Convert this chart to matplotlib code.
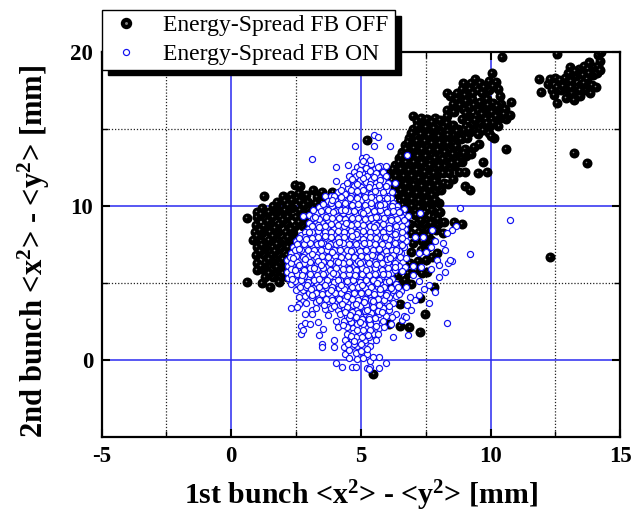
import matplotlib
matplotlib.use("Agg")
import matplotlib.pyplot as plt
from matplotlib.lines import Line2D
from matplotlib.legend_handler import HandlerTuple
from matplotlib.transforms import ScaledTranslation

plt.rcParams['font.family'] = ['Liberation Serif', 'DejaVu Serif']
plt.rcParams['mathtext.fontset'] = 'custom'
plt.rcParams['mathtext.bf'] = 'Liberation Serif:bold'
plt.rcParams['mathtext.rm'] = 'Liberation Serif'
plt.rcParams['axes.unicode_minus'] = False

X_TICKS = [-5, 0, 5, 10, 15]
Y_TICKS = [0, 10, 20]
X_MINOR = [-2.5, 2.5, 7.5, 12.5]
Y_MINOR = [5, 15]
X_LABEL = r'1st bunch <x$\mathbf{^2}$> - <y$\mathbf{^2}$> [mm]'
Y_LABEL = r'2nd bunch <x$\mathbf{^2}$> - <y$\mathbf{^2}$> [mm]'
LABEL_OFF = 'Energy-Spread FB OFF'
LABEL_ON = 'Energy-Spread FB ON'

off_far = [(11.87,18.23),(11.93,17.4),(12.2,17.9),(12.35,17.5),(12.3,18.2),(12.55,16.65),(12.5,18.3),(12.55,17.7),
 (12.45,17.2),(12.7,17.5),(12.75,18.0),(12.85,18.3),(12.9,17.0),(12.95,17.6),(13.0,18.6),(13.05,19.0),(13.1,18.1),
 (13.15,17.3),(13.2,16.85),(13.3,17.7),(13.3,18.4),(13.4,18.9),(13.45,17.1),(13.5,17.9),(13.55,18.5),(13.6,19.1),
 (13.65,17.5),(13.7,18.2),(13.75,18.9),(13.8,19.3),(13.85,17.3),(13.9,17.85),(13.95,18.5),(14.0,19.0),(14.05,17.7),
 (14.1,18.6),(14.15,19.1),(14.2,19.4),(14.15,19.8),(14.2,18.8),(12.57,19.83),(14.26,20.0),(13.2,13.45),(13.7,12.8),
 (12.3,6.67),(10.43,19.67),(10.6,13.7),(12.8,17.8),(13.25,18.75),(13.6,18.0),(13.45,17.5),(13.1,17.7),(13.8,18.6),(12.65,18.15)]

off_arm = [(10.05,18.6),(10.2,18.05),(9.95,18.1),(9.4,18.2),(9.25,17.95),(8.95,18.0),(8.9,17.6),(9.0,17.2),(9.5,17.5),
 (9.65,17.3),(9.95,17.5),(10.3,17.6),(10.35,17.1),(8.3,17.3),(8.45,17.15),(8.7,16.9),(8.55,16.6),(9.05,16.8),(9.3,16.9),
 (9.6,16.75),(9.85,16.95),(10.1,16.7),(10.4,16.6),(10.8,16.75),(8.3,16.2),(8.3,15.85),(8.95,16.3),(9.2,16.4),(9.5,16.2),
 (9.8,16.35),(10.05,16.1),(10.3,16.2),(10.55,16.3),(10.75,15.9),(10.6,15.6),(10.35,15.7),(10.05,15.6),(9.8,15.9),
 (9.45,15.85),(9.15,15.8),(8.9,15.6),(9.3,15.3),(9.05,15.2),(9.6,15.4),(9.95,15.1),(10.3,15.2),(10.1,15.35),(9.7,14.9),
 (9.95,14.75),(10.15,14.4),(10.0,14.55),(9.35,14.9),(9.1,14.4),(9.2,14.8),(8.95,14.9),
 (7.0,15.85),(7.15,15.5),(7.55,15.6),(7.85,15.7),(8.05,15.55),(7.35,15.2),(7.65,15.3),(7.95,15.15),(8.2,15.1),(8.55,15.25),
 (8.75,15.0),(7.0,15.0),(7.25,14.85),(7.5,14.9),(7.8,14.8),(8.1,14.7),(8.35,14.85),(8.6,14.6),(8.85,14.35),
 (6.85,14.4),(7.1,14.5),(7.4,14.45),(7.7,14.35),(7.95,14.25),(8.3,14.35),(8.55,14.1),(6.7,13.95),(7.0,14.05),(7.25,13.95),
 (7.55,13.9),(7.85,13.85),(8.15,13.8),(8.4,13.6),(8.75,13.55),(9.0,13.7),(9.35,13.8),(9.55,14.0),(9.25,13.35),(9.05,13.2),
 (6.6,13.5),(6.9,13.55),(7.2,13.5),(7.5,13.45),(7.75,13.35),(8.05,13.3),(8.35,13.1),(8.65,13.05),(8.9,12.85),(9.7,12.85),
 (6.45,13.1),(6.75,13.05),(7.05,13.1),(7.35,13.0),(7.65,12.9),(7.95,12.85),(8.25,12.6),(8.6,12.55),(8.8,12.2),(9.0,12.2),
 (6.3,12.65),(6.6,12.6),(6.9,12.6),(7.2,12.55),(7.5,12.45),(7.8,12.4),(8.15,12.1),(8.4,12.15),(9.5,12.15),(9.85,12.2),
 (6.1,12.2),(6.4,12.15),(6.7,12.15),(7.0,12.1),(7.3,12.0),(7.6,11.95),(7.9,11.8),(6.2,11.7),(6.5,11.7),(6.8,11.65),
 (7.1,11.6),(7.4,11.5),(7.7,11.45),(8.2,11.5),(8.55,11.75),(8.35,11.4),(9.0,11.3),(9.2,11.05),(8.1,11.0),(7.85,10.9),
 (6.3,11.2),(6.6,11.25),(6.9,11.15),(7.2,11.1),(7.5,11.0),(6.4,10.75),(6.7,10.75),(7.0,10.65),(7.3,10.6),(7.6,10.5),
 (6.5,10.3),(6.8,10.3),(7.1,10.2),(7.4,10.1),(7.7,10.1),(8.0,10.2)]

off_arm_fill = [(9.6,18.0),(10.1,17.8),(9.2,17.55),(9.75,17.7),(8.7,17.3),(9.3,17.3),(8.8,16.55),(9.35,16.55),(9.9,16.55),(10.25,16.45),
 (8.6,16.1),(9.05,16.0),(9.65,15.95),(10.2,15.85),(10.5,15.95),(9.4,15.55),(9.8,15.6),(9.15,15.0),(9.5,14.65),(9.85,15.35),
 (7.3,15.7),(7.75,15.45),(8.3,15.4),(7.15,15.2),(7.5,15.1),(7.8,15.05),(8.35,14.6),(8.7,14.85),(6.95,14.7),(7.3,14.65),
 (7.6,14.6),(8.0,14.5),(6.8,14.15),(7.15,14.2),(7.45,14.2),(7.75,14.1),(8.05,14.05),(8.35,14.05),(8.65,13.85),(6.75,13.7),
 (7.05,13.75),(7.35,13.7),(7.65,13.65),(7.95,13.6),(8.25,13.5),(8.55,13.35),(8.95,13.4),(6.55,13.25),(6.9,13.3),(7.2,13.25),
 (7.5,13.2),(7.85,13.1),(8.15,13.05),(8.5,12.8),(8.75,12.85),(6.45,12.85),(6.75,12.85),(7.05,12.85),(7.35,12.75),(7.65,12.65),
 (8.0,12.55),(6.25,12.4),(6.55,12.4),(6.85,12.35),(7.15,12.3),(7.45,12.2),(7.8,12.15),(6.35,11.95),(6.65,11.9),(6.95,11.9),
 (7.25,11.8),(7.55,11.7),(7.85,11.6),(6.45,11.45),(6.75,11.4),(7.05,11.35),(7.35,11.25),(7.65,11.2),(7.95,11.25),(6.55,11.0),
 (6.85,10.9),(7.15,10.85),(7.45,10.8),(7.75,10.7),(6.65,10.5),(6.95,10.45),(7.25,10.35),(7.55,10.3),(7.85,10.35),(6.6,10.05),
 (6.95,9.95),(7.25,9.9)]

off_lobe = [(2.47,11.35),(2.65,11.3),(1.25,10.6),(0.6,9.2),(2.0,10.6),(2.3,10.7),(2.6,10.8),(2.9,10.7),(3.16,11.0),(3.5,10.9),
 (3.9,10.9),(3.3,10.55),(3.6,10.5),(1.75,10.25),(2.05,10.3),(2.35,10.35),(2.65,10.3),(2.95,10.25),(3.25,10.2),
 (1.0,9.6),(1.2,9.85),(1.45,9.6),(1.75,9.8),(2.05,9.75),(2.35,9.85),(2.65,9.7),(2.95,9.8),(1.0,9.25),(1.3,9.2),(1.6,9.3),
 (1.9,9.3),(2.2,9.3),(2.5,9.25),(2.8,9.2),(0.95,8.75),(1.25,8.7),(1.55,8.8),(1.85,8.8),(2.15,8.8),(2.45,8.7),(2.75,8.7),
 (0.9,8.3),(1.2,8.2),(1.5,8.3),(1.8,8.3),(2.1,8.3),(2.4,8.2),(0.85,7.8),(1.15,7.7),(1.45,7.8),(1.75,7.75),(2.05,7.8),(2.35,7.7),
 (1.0,7.3),(1.3,7.25),(1.6,7.3),(1.9,7.25),(2.2,7.3),(0.95,6.8),(1.25,6.8),(1.55,6.8),(1.85,6.8),(2.15,6.8),
 (1.0,6.3),(1.3,6.3),(1.6,6.35),(1.9,6.3),(1.0,5.85),(1.25,5.8),(1.55,5.85),(1.85,5.8),(2.1,5.85),(1.3,5.4),(1.6,5.4),
 (1.9,5.4),(2.15,5.4),(0.6,5.06),(1.2,4.95),(1.5,4.74),(1.85,5.05),(2.25,6.3),(1.15,9.45),(1.6,10.0),(2.2,10.05),(2.8,10.05),
 (1.4,9.0),(2.0,9.05),(2.6,8.95),(1.1,8.45),(1.7,8.55),(2.3,8.5),(1.0,8.05),(1.6,8.05),(2.2,8.0),(1.2,7.45),(1.75,7.5),
 (1.1,7.05),(1.7,7.05),(2.0,6.55),(1.45,6.55),(1.15,6.1),(1.75,6.05),(1.45,5.6),(2.0,5.6)]

off_low = [(5.48,-0.93),(7.26,1.82),(6.87,2.14),(6.5,2.2),(6.1,2.35),(7.47,2.97),(7.28,3.98),(6.5,3.6),(7.82,4.74),(7.54,5.7),
 (7.35,5.6),(7.93,6.9),(7.75,6.7),(8.89,8.8),(8.6,8.95),(8.2,8.95),(7.96,8.8),(8.16,8.2),(5.23,14.27),(5.6,12.14),(6.1,4.9),
 (6.6,5.0),(6.95,4.9),(6.4,5.5),(6.8,5.6),(7.1,5.8),(6.9,6.3),(7.2,6.4),(7.5,6.5),(6.95,7.0),(7.3,7.1),(7.6,7.3),(7.0,7.6),
 (7.35,7.7),(7.7,7.8),(6.95,8.2),(7.25,8.3),(7.55,8.5),(6.9,8.8),(7.2,8.9),(7.5,9.1),(7.8,9.3),(7.1,9.4),(7.45,9.6),
 (7.75,9.7),(8.05,9.6),(6.85,9.75),(6.7,5.2),(7.7,8.9),(7.45,8.8),(7.9,8.4),(7.6,8.1),(7.3,9.1),(7.95,9.15)]

on_outer = [(3.13,13.03),(4.78,13.9),(5.51,14.6),(5.65,14.45),(5.5,13.85),(6.13,13.87),(6.77,13.3),(4.05,12.5),(8.83,9.85),
 (10.75,9.07),(9.2,6.85),(8.31,2.4),(8.5,6.43),(8.35,6.3),(8.23,5.7),(8.03,5.4),(8.67,8.7),(8.5,8.45),(8.3,8.2),(7.64,4.85),(7.64,3.7),
 (7.85,4.4),(6.77,3.55),(6.82,1.6),(6.25,1.45),(5.97,-0.24),(5.68,0.17),(5.68,-0.56),(5.25,-0.56),(5.35,-0.45),(4.65,-0.45),
 (4.8,-0.48),(4.27,-0.48),(4.05,-0.2),(5.3,-0.6),(3.5,1.02),(3.5,0.8),(3.95,1.27),(3.95,0.85),(3.37,1.6),(2.69,1.67),(2.69,2.2),(2.75,1.95),
 (2.85,2.36),(3.05,2.35),(3.33,2.47),(3.55,2.0),(4.13,2.14),(2.31,3.34),(2.63,3.6),(2.55,3.45),(2.85,2.97),(3.1,3.2),
 (3.1,2.97),(7.28,9.55),(7.73,8.42),(8.17,7.57),(8.25,7.1),(8.44,6.47),(7.85,7.7),(7.95,6.5),(8.0,6.15),(7.7,5.9),(7.25,5.1),
 (7.45,4.6),(7.1,3.9),(7.25,4.2),(6.9,4.1),(6.6,2.6),(6.35,2.95),(6.65,2.85),(7.5,7.0),(7.25,6.9),(7.7,7.3),(7.4,8.0),(7.1,8.0),
 (6.95,3.2),(6.75,2.75)]

on_core = [(4.5,12.65),(4.85,12.5),(5.05,13.1),(5.2,13.15),(5.0,12.7),(5.4,12.7),(5.75,12.6),(5.95,12.55),(5.2,12.45),(5.55,12.4),
 (4.75,12.2),(5.85,12.2),(4.55,11.95),(4.8,11.9),(5.05,12.1),(5.25,11.95),(5.45,12.05),(5.7,11.85),(5.95,11.9),(4.7,11.6),
 (4.95,11.65),(5.2,11.55),(5.4,11.7),(5.6,11.5),(5.85,11.6),(6.05,11.45),(4.05,11.6),(6.3,11.5),(4.3,11.3),(4.5,11.15),
 (4.75,11.25),(5.0,11.2),(5.25,11.1),(5.5,11.2),(5.75,11.15),(6.0,11.05),(6.2,10.9),(4.1,10.9),(4.4,10.75),(4.65,10.85),
 (4.9,10.7),(5.15,10.8),(5.4,10.75),(5.65,10.8),(5.9,10.7),(6.15,10.5),(3.6,10.6),(3.85,10.6),(3.75,10.3),(4.0,10.4),
 (4.25,10.3),(4.5,10.4),(4.75,10.25),(5.0,10.35),(5.25,10.3),(5.5,10.35),(5.75,10.25),(6.0,10.3),(6.25,10.2),(6.4,10.0),
 (3.4,9.9),(3.65,9.8),(3.9,9.95),(4.15,9.85),(4.4,9.95),(4.65,9.85),(4.9,9.9),(5.15,9.8),(5.4,9.95),(5.65,9.85),(5.9,9.9),
 (6.15,9.8),(6.4,9.75),(6.65,9.8),(3.0,9.4),(3.3,9.5),(3.55,9.35),(3.8,9.5),(4.05,9.4),(4.3,9.5),(4.55,9.4),(4.8,9.45),
 (5.05,9.35),(5.3,9.5),(5.55,9.4),(5.8,9.5),(6.05,9.35),(6.3,9.45),(6.55,9.35),(6.8,9.3),(2.75,9.35),(3.0,8.85),(3.25,9.0),
 (3.5,8.9),(3.75,9.05),(4.0,8.95),(4.25,9.0),(4.5,8.9),(4.75,9.05),(5.0,8.95),(5.25,9.0),(5.5,8.9),(5.75,9.05),(6.0,8.95),
 (6.25,9.0),(6.5,8.9),(6.75,8.85),
 (2.95,8.5),(3.2,8.55),(3.45,8.45),(3.7,8.6),(3.95,8.5),(4.2,8.55),(4.45,8.45),(4.7,8.6),(4.95,8.5),(5.2,8.55),(5.45,8.45),
 (5.7,8.6),(5.95,8.5),(6.2,8.55),(6.45,8.45),(6.7,8.5),
 (2.7,8.1),(2.95,8.15),(3.2,8.05),(3.45,8.2),(3.7,8.1),(3.95,8.15),(4.2,8.05),(4.45,8.2),(4.7,8.1),(4.95,8.15),(5.2,8.05),
 (5.45,8.2),(5.7,8.1),(5.95,8.15),(6.2,8.05),(6.45,8.15),(6.7,8.05),
 (2.5,7.7),(2.75,7.75),(3.0,7.65),(3.25,7.8),(3.5,7.7),(3.75,7.75),(4.0,7.65),(4.25,7.8),(4.5,7.7),(4.75,7.75),(5.0,7.65),
 (5.25,7.8),(5.5,7.7),(5.75,7.75),(6.0,7.65),(6.25,7.75),(6.5,7.65),(6.75,7.7),
 (2.4,7.3),(2.65,7.35),(2.9,7.25),(3.15,7.4),(3.4,7.3),(3.65,7.35),(3.9,7.25),(4.15,7.4),(4.4,7.3),(4.65,7.35),(4.9,7.25),
 (5.15,7.4),(5.4,7.3),(5.65,7.35),(5.9,7.25),(6.15,7.35),(6.4,7.25),(6.65,7.3),
 (2.3,6.9),(2.55,6.95),(2.8,6.85),(3.05,7.0),(3.3,6.9),(3.55,6.95),(3.8,6.85),(4.05,7.0),(4.3,6.9),(4.55,6.95),(4.8,6.85),
 (5.05,7.0),(5.3,6.9),(5.55,6.95),(5.8,6.85),(6.05,6.95),(6.3,6.85),(6.55,6.9),(6.75,6.6),
 (2.15,6.5),(2.4,6.55),(2.65,6.45),(2.9,6.6),(3.15,6.5),(3.4,6.55),(3.65,6.45),(3.9,6.6),(4.15,6.5),(4.4,6.55),(4.65,6.45),
 (4.9,6.6),(5.15,6.5),(5.4,6.55),(5.65,6.45),(5.9,6.55),(6.15,6.45),(6.4,6.5),
 (2.2,6.1),(2.45,6.15),(2.7,6.05),(2.95,6.2),(3.2,6.1),(3.45,6.15),(3.7,6.05),(3.95,6.2),(4.2,6.1),(4.45,6.15),(4.7,6.05),
 (4.95,6.2),(5.2,6.1),(5.45,6.15),(5.7,6.05),(5.95,6.15),(6.2,6.05),(6.45,6.1),(6.7,6.0),(7.0,6.1),(7.3,6.05),
 (2.15,5.7),(2.4,5.75),(2.65,5.65),(2.9,5.8),(3.15,5.7),(3.4,5.75),(3.65,5.65),(3.9,5.8),(4.15,5.7),(4.4,5.75),(4.65,5.65),
 (4.9,5.8),(5.15,5.7),(5.4,5.75),(5.65,5.65),(5.9,5.75),(6.15,5.65),(6.6,5.75),(7.0,5.5),
 (2.2,5.3),(2.45,5.35),(2.7,5.25),(2.95,5.4),(3.2,5.3),(3.45,5.35),(3.7,5.25),(3.95,5.4),(4.2,5.3),(4.45,5.35),(4.7,5.25),
 (4.95,5.4),(5.2,5.3),(5.45,5.35),(5.7,5.25),(5.95,5.35),(6.2,5.25),
 (2.3,4.9),(2.55,4.95),(2.8,4.85),(3.05,5.0),(3.3,4.9),(3.55,4.95),(3.8,4.85),(4.05,5.0),(4.3,4.9),(4.55,4.95),(4.8,4.85),
 (5.05,5.0),(5.3,4.9),(5.55,4.95),(5.8,4.85),(6.35,4.9),(6.75,4.7),
 (2.5,4.5),(2.75,4.55),(3.0,4.45),(3.25,4.6),(3.5,4.5),(3.75,4.55),(4.0,4.45),(4.25,4.6),(4.5,4.5),(4.75,4.55),(5.0,4.45),
 (5.25,4.6),(5.5,4.5),(5.75,4.55),(6.0,4.45),(6.25,4.5),(6.55,4.45),
 (2.6,4.1),(2.85,4.15),(3.1,4.05),(3.35,4.2),(3.6,4.1),(3.85,4.15),(4.1,4.05),(4.35,4.2),(4.6,4.1),(4.85,4.15),(5.1,4.05),
 (5.35,4.2),(5.6,4.1),(5.85,4.15),(6.1,4.05),(6.35,4.15),
 (2.9,3.7),(3.25,3.75),(3.5,3.65),(3.75,3.8),(4.0,3.7),(4.25,3.75),(4.5,3.65),(4.75,3.8),(5.0,3.7),(5.25,3.75),(5.5,3.65),
 (5.75,3.75),(6.0,3.7),(6.25,3.65),
 (3.25,3.35),(3.6,3.3),(3.85,3.35),(4.1,3.25),(4.35,3.35),(4.6,3.3),(4.85,3.25),(5.1,3.35),(5.35,3.3),(5.6,3.25),(5.85,3.35),(6.1,3.25),
 (3.75,2.9),(4.2,2.95),(4.45,2.85),(4.7,2.95),(4.95,2.85),(5.2,2.95),(5.45,2.85),(5.7,2.95),(5.95,2.85),(6.2,2.8),
 (4.05,2.5),(4.35,2.5),(4.6,2.45),(4.85,2.55),(5.1,2.45),(5.35,2.55),(5.6,2.45),(5.85,2.5),(6.15,2.3),
 (4.45,2.1),(4.7,2.05),(4.95,2.15),(5.2,2.05),(5.45,2.15),(5.7,2.05),(5.9,2.15),
 (4.45,1.7),(4.7,1.75),(4.95,1.65),(5.2,1.75),(5.45,1.65),(5.65,1.7),
 (4.4,1.25),(4.65,1.3),(4.9,1.2),(5.15,1.3),(5.4,1.2),(5.6,1.3),
 (4.35,0.85),(4.6,0.85),(4.85,0.9),(5.1,0.8),(5.35,0.9),
 (4.4,0.4),(4.55,0.6),(4.8,0.45),(5.0,0.55),(5.25,0.4),
 (4.55,0.1),(4.85,0.05),(5.1,0.1),(5.35,-0.1),(5.45,0.15)]

on_fill = [(5.1,12.9),(5.35,12.95),(5.65,12.5),(4.95,12.35),(5.35,12.25),(5.6,12.15),(4.65,11.75),(5.1,11.8),(5.5,11.85),(5.75,11.65),
 (4.45,11.45),(4.85,11.4),(5.35,11.4),(5.7,11.35),(5.95,11.3),(4.25,11.05),(4.6,11.0),(4.85,10.95),(5.1,11.0),(5.55,10.95),(5.85,10.9),
 (3.95,10.65),(4.25,10.55),(4.6,10.6),(4.85,10.5),(5.15,10.55),(5.4,10.55),(5.7,10.5),(6.0,10.5),(3.55,10.1),(3.85,10.15),(4.1,10.1),
 (4.4,10.15),(4.65,10.05),(4.9,10.1),(5.15,10.05),(5.4,10.15),(5.65,10.05),(5.9,10.1),(6.2,10.0),(3.15,9.7),(3.45,9.65),(3.75,9.7),
 (4.0,9.65),(4.25,9.7),(4.5,9.65),(4.75,9.65),(5.0,9.6),(5.25,9.7),(5.5,9.65),(5.75,9.7),(6.0,9.6),(6.25,9.65),(6.5,9.6),(3.15,9.2),
 (3.4,9.15),(3.65,9.25),(3.9,9.2),(4.15,9.2),(4.4,9.15),(4.65,9.2),(4.9,9.2),(5.15,9.15),(5.4,9.2),(5.65,9.25),(5.9,9.2),(6.15,9.2),
 (6.4,9.15),(6.65,9.1),(3.1,8.7),(3.35,8.75),(3.6,8.7),(3.85,8.8),(4.1,8.75),(4.35,8.7),(4.6,8.75),(4.85,8.8),(5.1,8.75),(5.35,8.7),
 (5.6,8.75),(5.85,8.8),(6.1,8.75),(6.35,8.7),(6.6,8.7),(2.85,8.3),(3.1,8.3),(3.35,8.35),(3.6,8.3),(3.85,8.3),(4.1,8.35),(4.35,8.3),
 (4.6,8.35),(4.85,8.3),(5.1,8.35),(5.35,8.3),(5.6,8.35),(5.85,8.3),(6.1,8.35),(6.35,8.3),(6.6,8.3),(2.6,7.9),(2.85,7.95),(3.1,7.9),
 (3.35,7.95),(3.6,7.9),(3.85,7.95),(4.1,7.9),(4.35,7.95),(4.6,7.9),(4.85,7.95),(5.1,7.85),(5.35,7.95),(5.6,7.9),(5.85,7.95),(6.1,7.85),
 (6.35,7.95),(6.6,7.9),(2.55,7.5),(2.8,7.5),(3.05,7.55),(3.3,7.5),(3.55,7.55),(3.8,7.5),(4.05,7.5),(4.3,7.55),(4.55,7.5),(4.8,7.5),
 (5.05,7.45),(5.3,7.55),(5.55,7.5),(5.8,7.5),(6.05,7.45),(6.3,7.55),(6.55,7.5),(2.45,7.1),(2.7,7.15),(2.95,7.1),(3.2,7.15),(3.45,7.1),
 (3.7,7.15),(3.95,7.1),(4.2,7.15),(4.45,7.1),(4.7,7.15),(4.95,7.05),(5.2,7.15),(5.45,7.1),(5.7,7.15),(5.95,7.05),(6.2,7.1),(6.45,7.05),
 (2.25,6.7),(2.5,6.75),(2.75,6.7),(3.0,6.75),(3.25,6.7),(3.5,6.75),(3.75,6.65),(4.0,6.75),(4.25,6.7),(4.5,6.75),(4.75,6.65),(5.0,6.75),
 (5.25,6.7),(5.5,6.75),(5.75,6.65),(6.0,6.75),(6.25,6.65),(6.5,6.7),(2.3,6.3),(2.55,6.35),(2.8,6.25),(3.05,6.35),(3.3,6.3),(3.55,6.35),
 (3.8,6.25),(4.05,6.4),(4.3,6.3),(4.55,6.35),(4.8,6.25),(5.05,6.35),(5.3,6.3),(5.55,6.35),(5.8,6.25),(6.05,6.35),(6.3,6.25),(2.3,5.9),
 (2.55,5.95),(2.8,5.85),(3.05,5.95),(3.3,5.9),(3.55,5.95),(3.8,5.85),(4.05,5.95),(4.3,5.9),(4.55,5.95),(4.8,5.85),(5.05,5.95),(5.3,5.9),
 (5.55,5.95),(5.8,5.85),(6.05,5.95),(6.3,5.85),(2.3,5.5),(2.55,5.55),(2.8,5.45),(3.05,5.55),(3.3,5.5),(3.55,5.55),(3.8,5.45),(4.05,5.55),
 (4.3,5.5),(4.55,5.55),(4.8,5.45),(5.05,5.55),(5.3,5.5),(5.55,5.55),(5.8,5.45),(6.05,5.55),(2.45,5.1),(2.7,5.15),(2.95,5.05),(3.2,5.15),
 (3.45,5.1),(3.7,5.15),(3.95,5.05),(4.2,5.15),(4.45,5.1),(4.7,5.15),(4.95,5.05),(5.2,5.15),(5.45,5.1),(5.7,5.15),(5.95,5.05),(2.65,4.7),
 (2.9,4.75),(3.15,4.65),(3.4,4.75),(3.65,4.7),(3.9,4.75),(4.15,4.65),(4.4,4.75),(4.65,4.7),(4.9,4.75),(5.15,4.65),(5.4,4.75),(5.65,4.7),
 (5.9,4.75),(6.15,4.65),(3.0,4.3),(3.25,4.35),(3.5,4.25),(3.75,4.35),(4.0,4.3),(4.25,4.35),(4.5,4.25),(4.75,4.35),(5.0,4.3),(5.25,4.35),
 (5.5,4.25),(5.75,4.35),(6.0,4.3),(3.4,3.9),(3.65,3.95),(3.9,3.85),(4.15,3.95),(4.4,3.9),(4.65,3.95),(4.9,3.85),(5.15,3.95),(5.4,3.9),
 (5.65,3.95),(5.9,3.85),(3.95,3.5),(4.2,3.55),(4.45,3.45),(4.7,3.55),(4.95,3.5),(5.2,3.55),(5.45,3.45),(5.7,3.55),(4.4,3.1),(4.65,3.1),
 (4.9,3.05),(5.15,3.15),(5.4,3.05),(5.65,3.15),(4.55,2.7),(4.8,2.75),(5.05,2.65),(5.3,2.75),(5.55,2.7),(4.85,2.3),(5.1,2.3),(5.35,2.35),
 (4.85,1.9),(5.1,1.95),(5.35,1.9),(4.8,1.45),(5.05,1.5),(5.3,1.5),(4.75,1.05),(5.0,1.05)]

on_top = [(4.93,12.03),(5.31,11.22),(4.58,10.47),(5.72,10.02),(3.92,9.58),(5.08,9.52),(6.17,9.07),(3.38,8.62),(4.42,8.87),(5.52,8.62),
 (6.33,8.18),(2.88,7.83),(3.62,8.02),(4.83,8.17),(5.93,7.98),(6.58,7.43),(2.62,7.22),(3.48,7.57),(4.17,7.62),(5.12,7.58),(5.68,7.22),
 (6.22,6.78),(2.37,6.62),(3.13,6.88),(3.87,6.97),(4.62,7.03),(5.42,6.83),(6.02,6.52),(2.62,6.18),(3.33,6.42),(4.12,6.32),(4.87,6.43),
 (5.58,6.22),(6.33,6.03),(2.47,5.82),(3.18,5.93),(3.92,5.62),(4.53,5.87),(5.18,5.83),(5.87,5.57),(2.73,5.52),(3.38,5.22),(4.12,5.18),
 (4.78,5.52),(5.48,5.18),(6.08,5.13),(2.93,4.87),(3.62,4.83),(4.33,4.62),(5.03,4.87),(5.73,4.62),(6.42,4.72),(3.12,4.22),(3.83,4.52),
 (4.48,4.12),(5.27,4.42),(5.97,4.18),(3.58,3.52),(4.27,3.62),(4.83,3.62),(5.47,3.82),(6.07,3.48),(4.58,2.88),(5.23,3.22),(5.83,3.08),
 (4.32,2.28),(4.97,2.42),(5.58,2.22),(4.62,1.52),(5.28,1.62),(4.52,1.02),(5.22,0.68),(3.87,10.37),(4.37,9.73),(5.58,9.27),(6.47,9.62),
 (3.23,9.28),(2.98,8.27),(6.08,8.57),(4.67,8.02),(3.73,7.37),(6.37,7.12),(2.83,6.53),(4.97,6.27),(6.12,6.58),(3.48,6.12),(2.33,5.23),
 (5.62,4.98),(4.23,4.82),(3.07,4.58),(5.12,3.73),(6.48,4.28),(5.33,2.62),(4.73,1.22)]

off_points = off_lobe + off_low + off_arm + off_arm_fill + off_far
on_points = on_outer + on_core + on_fill + on_top

fig = plt.figure(figsize=(6.42, 5.12), dpi=100)
ax = fig.add_axes([101.5/642, 1-436.7/512, (620.3-101.5)/642, (436.7-51.7)/512])
ax.set_xlim(-5, 15)
ax.set_ylim(-5, 20)
ax.set_xticks(X_TICKS)
ax.set_yticks(Y_TICKS)
ax.set_xticks(X_MINOR, minor=True)
ax.set_yticks(Y_MINOR, minor=True)
ax.set_axisbelow(True)
ax.grid(True, which='major', color='#2a2af0', lw=1.1, ls='-')
ax.grid(True, which='minor', color='#222222', lw=0.9, ls=(0, (1, 1.5)))
ax.tick_params(which='major', direction='in', top=True, right=True, length=6, width=1.5, labelsize=16.5, pad=7)
ax.tick_params(which='minor', direction='in', top=True, right=True, length=4, width=1.0)
ax.tick_params(axis='y', which='major', pad=6)
for s in ax.spines.values():
    s.set_linewidth(1.6)
for lab in ax.get_xticklabels() + ax.get_yticklabels():
    lab.set_fontweight('bold')
ax.set_xlabel(X_LABEL, fontsize=21.5, fontweight='bold', labelpad=8)
ax.set_ylabel(Y_LABEL, fontsize=22, fontweight='bold', labelpad=13, y=0.48)

shift = ax.transData + ScaledTranslation(-0.6/72, 0.7/72, fig.dpi_scale_trans)
z = 3.0
for (px, py) in off_points:
    ax.plot([px], [py], 'o', ms=7.2, mfc='black', mec='black', mew=0, zorder=z)
    ax.plot([px], [py], 'o', ms=1.1, mfc='#808080', mec='none', zorder=z + 0.0001, transform=shift)
    z += 0.001
ax.plot([p[0] for p in on_points], [p[1] for p in on_points], 'o', ms=4.4, mfc='white', mec='#1010f0',
        mew=0.85, ls='none', zorder=10)

h_off = (Line2D([], [], marker='o', ms=7.2, color='black', ls='none'),
         Line2D([], [], marker='o', ms=1.1, color='#808080', ls='none'))
h_on = Line2D([], [], marker='o', ms=4.4, mfc='white', mec='#1010f0', mew=0.85, ls='none')
x0 = (102 - 101.5) / (620.3 - 101.5)
w = (395 - 102) / (620.3 - 101.5)
y1 = (436.7 - 10) / (436.7 - 51.7)
leg = ax.legend([h_off, h_on], [LABEL_OFF, LABEL_ON], handler_map={tuple: HandlerTuple(ndivide=1, pad=0)},
                loc='upper left', bbox_to_anchor=(x0, y1 - 1, w, 1), mode='expand', borderaxespad=0,
                fontsize=17.0, handlelength=1.65, handletextpad=0.72, borderpad=0.2, labelspacing=0.3,
                fancybox=False, framealpha=1, edgecolor='black', facecolor='white',
                shadow={'ox': 4, 'oy': -4, 'color': 'black', 'alpha': 1})
leg.get_frame().set_linewidth(1.0)
leg.set_zorder(30)
fig.savefig('out.png', dpi=100)
